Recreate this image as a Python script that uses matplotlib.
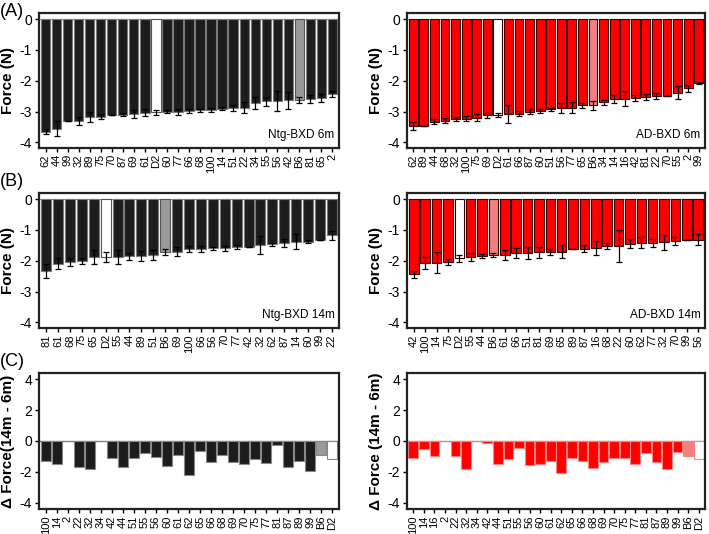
import numpy as np
import matplotlib
matplotlib.use('Agg')
import matplotlib.pyplot as plt

plt.rcParams['font.family'] = ['Liberation Sans', 'DejaVu Sans']

# panel A: 6 months
ntg6_labels = ['62', '44', '99', '32', '89', '75', '70', '87', '69', '61', 'D2', '60', '77', '66',
               '68', '100', '14', '51', '22', '34', '55', '56', '42', 'B6', '81', '65', '2']
ntg6_force = [-3.65, -3.55, -3.32, -3.30, -3.18, -3.17, -3.11, -3.10, -3.08, -3.03, -3.02, -3.01,
              -3.00, -2.98, -2.96, -2.95, -2.90, -2.88, -2.87, -2.72, -2.66, -2.65, -2.63, -2.61,
              -2.59, -2.56, -2.43]
ntg6_err = [0.08, 0.25, 0, 0.12, 0.16, 0.08, 0, 0.05, 0.13, 0.10, 0.08, 0.05, 0.10, 0.07, 0.05,
            0.07, 0.04, 0.10, 0.18, 0.20, 0.15, 0.33, 0.27, 0.10, 0.13, 0.13, 0.10]

ad6_labels = ['62', '89', '44', '68', '32', '100', '75', '69', 'D2', '61', '66', '87', '60', '51',
              '56', '77', '65', 'B6', '34', '14', '16', '42', '81', '22', '70', '55', '2', '99']
ad6_force = [-3.47, -3.46, -3.33, -3.30, -3.25, -3.23, -3.20, -3.12, -3.10, -3.08, -3.07, -3.00,
             -2.97, -2.92, -2.88, -2.87, -2.80, -2.80, -2.70, -2.60, -2.58, -2.57, -2.53, -2.48,
             -2.48, -2.38, -2.24, -2.07]
ad6_err = [0.12, 0, 0.08, 0.08, 0.07, 0.08, 0.12, 0.08, 0.07, 0.30, 0.08, 0.07, 0.07, 0.05, 0.15,
           0.17, 0.07, 0.14, 0.07, 0.13, 0.24, 0.10, 0.10, 0.10, 0, 0.22, 0.12, 0.03]

# panel B: 14 months
ntg14_labels = ['81', '61', '68', '75', '65', 'D2', '55', '44', '89', '51', 'B6', '69', '100', '66',
                '56', '70', '77', '42', '32', '62', '87', '14', '60', '99', '22']
ntg14_force = [-2.33, -2.09, -2.04, -2.00, -1.87, -1.87, -1.87, -1.86, -1.85, -1.80, -1.72, -1.70,
               -1.62, -1.61, -1.60, -1.60, -1.56, -1.55, -1.48, -1.47, -1.42, -1.38, -1.38, -1.33,
               -1.17]
ntg14_err = [0.23, 0.18, 0.14, 0.10, 0.22, 0.17, 0.22, 0.10, 0.16, 0.16, 0.10, 0.14, 0.09, 0.09,
             0.05, 0.07, 0.06, 0, 0.30, 0.05, 0.13, 0.24, 0.04, 0, 0.15]

ad14_labels = ['42', '100', '14', '75', 'D2', '55', '44', 'B6', '61', '66', '51', '81', '69', '65',
               '89', '87', '16', '68', '22', '60', '62', '77', '32', '70', '99', '56']
ad14_force = [-2.44, -2.07, -2.07, -2.04, -1.92, -1.89, -1.85, -1.81, -1.80, -1.75, -1.75, -1.73,
              -1.72, -1.70, -1.62, -1.61, -1.59, -1.53, -1.52, -1.44, -1.42, -1.41, -1.40, -1.36,
              -1.31, -1.31]
ad14_err = [0.12, 0.19, 0.34, 0.10, 0.12, 0.13, 0.07, 0.07, 0.16, 0.16, 0.19, 0.19, 0.10, 0.22, 0,
            0.12, 0.22, 0.10, 0.53, 0.15, 0.18, 0.13, 0.24, 0.13, 0, 0.17]

# panel C: change 14m - 6m
ntg_d_labels = ['100', '14', '2', '22', '32', '34', '42', '44', '51', '55', '56', '60', '61', '62',
                '65', '66', '68', '69', '70', '75', '77', '81', '87', '89', '99', 'B6', 'D2']
ntg_delta = [-1.32, -1.52, np.nan, -1.70, -1.83, np.nan, -1.07, -1.70, -1.08, -0.78, -1.03, -1.63,
             -0.92, -2.17, -0.65, -1.36, -0.91, -1.38, -1.49, -1.15, -1.43, -0.25, -1.67, -1.30,
             -1.97, -0.88, -1.15]

ad_d_labels = ['100', '14', '16', '2', '22', '32', '34', '42', '44', '51', '55', '56', '60', '61',
               '62', '65', '66', '68', '69', '70', '75', '77', '81', '87', '89', '99', 'B6', 'D2']
ad_delta = [-1.13, -0.53, -0.98, np.nan, -0.95, -1.83, np.nan, -0.10, -1.48, -1.17, -0.48, -1.57,
            -1.52, -1.27, -2.05, -1.12, -1.32, -1.77, -1.37, -1.12, -1.13, -1.47, -0.80, -1.37,
            -1.82, -0.72, -0.98, -1.18]

W, H = 709, 534
fig = plt.figure(figsize=(W / 100, H / 100), dpi=100)


def make_ax(l, t, r, b):
    return fig.add_axes([l / W, 1 - b / H, (r - l) / W, (b - t) / H])


def colors_for(labels, kind):
    if kind == 'ntg':
        base, b6, edge, b6e = '#1c1c1c', '#9a9a9a', '#7a7a7a', '#555555'
    else:
        base, b6, edge, b6e = '#ff0000', '#f28080', '#3a0000', '#3a0000'
    face, edges = [], []
    for lab in labels:
        if lab == 'D2':
            face.append('white')
            edges.append('#555555' if kind == 'ntg' else '#3a0000')
        elif lab == 'B6':
            face.append(b6)
            edges.append(b6e)
        else:
            face.append(base)
            edges.append(edge)
    return face, edges


def style(ax):
    for s in ax.spines.values():
        s.set_linewidth(1.6)
        s.set_color('#222222')
    ax.tick_params(axis='y', labelsize=10, length=3, width=1, pad=2)
    ax.tick_params(axis='x', labelsize=8, length=3, width=1, pad=1.5)


def force_panel(ax, labels, vals, err, kind, tag):
    x = np.arange(len(labels))
    face, edges = colors_for(labels, kind)
    ax.axhline(0, color='#999999', lw=0.8, zorder=1)
    ax.bar(x, vals, width=0.84, color=face, edgecolor=edges, linewidth=0.8, zorder=2)
    ax.errorbar(x, vals, yerr=err, fmt='none', ecolor='black', elinewidth=0.9,
                capsize=2, capthick=0.9, zorder=3)
    ax.set_xlim(-0.6, len(labels) - 0.4)
    ax.set_ylim(-4.18, 0.2)
    ax.set_yticks([0, -1, -2, -3, -4])
    ax.set_yticklabels(['0', '-1', '-2', '-3', '-4'])
    ax.set_xticks(x)
    ax.set_xticklabels(labels, rotation=90)
    ax.set_ylabel('Force (N)', fontsize=11, fontweight='bold', labelpad=3)
    ax.text(0.985, 0.05, tag, transform=ax.transAxes, ha='right', va='bottom', fontsize=8.5)
    style(ax)


def delta_panel(ax, labels, vals, kind, ylab):
    x = np.arange(len(labels))
    face, edges = colors_for(labels, kind)
    if kind == 'ntg':
        edges = ['#888888'] * len(labels)
    else:
        edges = ['#ff8080'] * len(labels)
    ax.axhline(0, color='#555555', lw=0.9, zorder=1)
    ax.bar(x, np.nan_to_num(vals), width=0.92, color=face, edgecolor=edges, linewidth=0.8, zorder=2)
    ax.set_xlim(-0.6, len(labels) - 0.4)
    ax.set_ylim(-4.4, 4.4)
    ax.set_yticks([4, 2, 0, -2, -4])
    ax.set_yticklabels(['4', '2', '0', '-2', '-4'])
    ax.set_xticks(x)
    ax.set_xticklabels(labels, rotation=90)
    ax.set_ylabel(ylab, fontsize=11, fontweight='bold', labelpad=3)
    style(ax)


force_panel(make_ax(39, 13, 339, 148), ntg6_labels, ntg6_force, ntg6_err, 'ntg', 'Ntg-BXD 6m')
force_panel(make_ax(407, 13, 705, 148), ad6_labels, ad6_force, ad6_err, 'ad', 'AD-BXD 6m')
force_panel(make_ax(39, 193, 339, 328), ntg14_labels, ntg14_force, ntg14_err, 'ntg', 'Ntg-BXD 14m')
force_panel(make_ax(407, 193, 705, 328), ad14_labels, ad14_force, ad14_err, 'ad', 'AD-BXD 14m')
delta_panel(make_ax(39, 373, 339, 509), ntg_d_labels, ntg_delta, 'ntg', 'Δ Force(14m - 6m)')
delta_panel(make_ax(407, 373, 705, 509), ad_d_labels, ad_delta, 'ad', 'Δ Force (14m - 6m)')

fig.text(0 / W, 1 - 11 / H, '(A)', fontsize=13, va='center', ha='left')
fig.text(0 / W, 1 - 181 / H, '(B)', fontsize=13, va='center', ha='left')
fig.text(0 / W, 1 - 362 / H, '(C)', fontsize=13, va='center', ha='left')

fig.savefig('out.png', dpi=100)
